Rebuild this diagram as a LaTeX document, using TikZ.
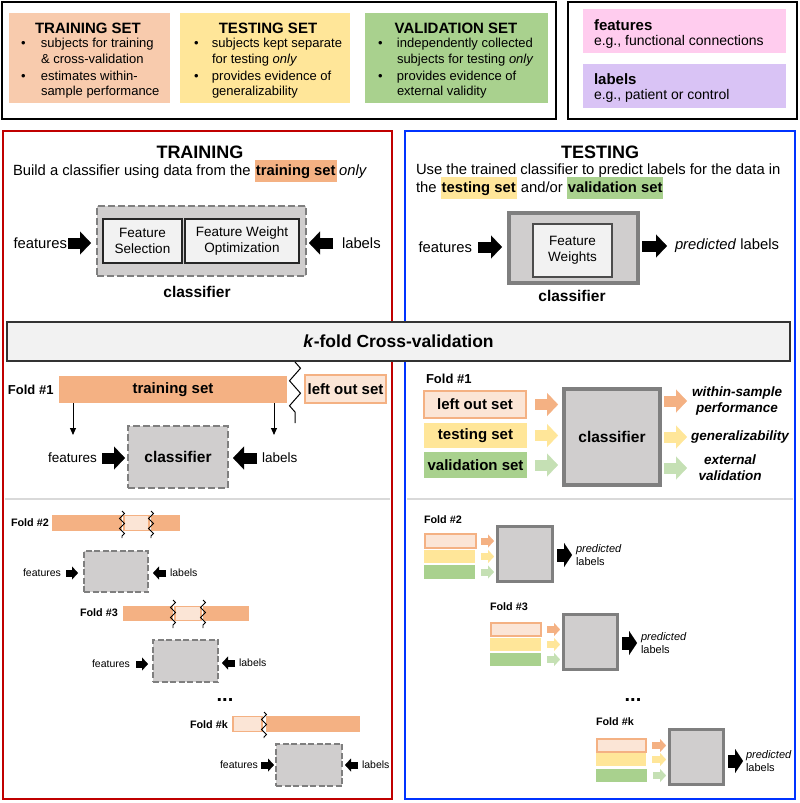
\documentclass[tikz,border=0pt]{standalone}
\usepackage{fontspec}
\setmainfont{Liberation Sans}
\usetikzlibrary{positioning}
\usetikzlibrary{arrows.meta}
\usetikzlibrary{calc}
\usetikzlibrary{decorations.pathmorphing}

\definecolor{trainC}{HTML}{F8CBAD}
\definecolor{testC}{HTML}{FFE699}
\definecolor{validC}{HTML}{A9D18E}
\definecolor{featC}{HTML}{FFCCEE}
\definecolor{labC}{HTML}{D9C3F5}
\definecolor{barC}{HTML}{F4B183}
\definecolor{leftC}{HTML}{FBE5D6}
\definecolor{greenA}{HTML}{C5E0B4}
\definecolor{clfC}{HTML}{D0CECE}
\definecolor{lineC}{HTML}{7F7F7F}
\definecolor{redC}{HTML}{C00000}
\definecolor{blueC}{HTML}{0033FF}

\newcommand{\fsz}[2]{\fontsize{#1}{#2}\selectfont}
\newcommand{\hlite}[2]{\smash{\setlength{\fboxsep}{0pt}\colorbox{#1}{\rule[-6.5pt]{0pt}{22.5pt}\hspace{1pt}\textbf{#2}\hspace{1pt}}}}

\begin{document}
\begin{tikzpicture}[x=1pt, y=-1pt,
    every node/.style={inner sep=0pt, outer sep=0pt},
    sz/.style 2 args={anchor=north west, minimum width=#1pt, minimum height=#2pt},
    framebox/.style={draw=black, line width=1.5pt},
    panel/.style={draw=#1, line width=2.5pt},
    legtitle/.style={font=\fsz{15}{18}\bfseries},
    legtext/.style={font=\fsz{13}{15.5}, anchor=base west},
    keyname/.style={font=\fsz{15}{18}\bfseries, anchor=west},
    keytext/.style={font=\fsz{14}{17}, anchor=west},
    heading/.style={font=\fsz{18}{21}\bfseries},
    body/.style={font=\fsz{14.8}{18}},
    midtxt/.style={font=\fsz{13.5}{16}},
    smalltxt/.style={font=\fsz{10.5}{12.5}},
    foldlbl/.style={font=\fsz{13}{15}\bfseries, anchor=west},
    foldsm/.style={font=\fsz{10.8}{13}\bfseries, anchor=west},
    setbox/.style={fill=#1, font=\fsz{15}{18}\bfseries},
    loframe/.style={fill=leftC, draw=barC, line width=#1},
    featbox/.style={fill=black!5, draw=black!85, line width=1.2pt, align=center, font=\fsz{13.5}{16}},
    dashclf/.style={fill=clfC, draw=lineC, line width=2.5pt, dash pattern=on 7pt off 3pt, font=\fsz{15.5}{18}\bfseries},
    dashsm/.style={fill=clfC, draw=lineC, line width=2pt, dash pattern=on 6pt off 2.5pt},
    solidclf/.style={fill=clfC, draw=lineC, line width=#1, font=\fsz{15.5}{18}\bfseries},
    outlbl/.style={font=\fsz{13.5}{16}\bfseries\itshape, align=center, anchor=west},
    predlbl/.style={font=\fsz{11}{12.5}, align=left, anchor=west},
    bigarr/.style={line width=11pt, -{Triangle[length=11pt, width=23pt, line width=0.1pt]}},
    smallarr/.style={line width=7pt, -{Triangle[length=6pt, width=13pt, line width=0.1pt]}},
    outarr/.style={line width=13pt, -{Triangle[length=8pt, width=24pt, line width=0.1pt]}},
    downarr/.style={line width=1pt, -{Triangle[length=7pt, width=6pt]}},
    zigbig/.style={line width=1pt, decorate, decoration={zigzag, segment length=25pt, amplitude=5.5pt}},
    zigsm/.style={line width=0.8pt, decorate, decoration={zigzag, segment length=10pt, amplitude=2.5pt}},
    sepline/.style={draw=black!15, line width=1.5pt},
]
    \useasboundingbox (0,0) rectangle (800,803);

    % legend of the data sets
    \node[framebox, sz={554}{117}] (legend) at (2,2) {};
    \node[fill=trainC, sz={161}{90}] (trainleg) at (9,13) {};
    \node[fill=testC, sz={170}{90}] (testleg) at (180,13) {};
    \node[fill=validC, sz={183}{90}] (validleg) at (365,13) {};
    \node[legtitle] (trainhead) at (88,28) {TRAINING SET};
    \node[legtitle] (testhead) at (268,28) {TESTING SET};
    \node[legtitle] (validhead) at (456,28) {VALIDATION SET};
    \node[legtext] (trainpts) at (21,47.5) {\begin{tabular}[t]{@{}p{20pt}@{}l@{}}
        \textbullet & subjects for training\\
        & \& cross-validation\\[1.5pt]
        \textbullet & estimates within-\\
        & sample performance
    \end{tabular}};
    \node[legtext] (testpts) at (194,47.5) {\begin{tabular}[t]{@{}p{18pt}@{}l@{}}
        \textbullet & subjects kept separate\\
        & for testing \textit{only}\\[1.5pt]
        \textbullet & provides evidence of\\
        & generalizability
    \end{tabular}};
    \node[legtext] (validpts) at (378,47.5) {\begin{tabular}[t]{@{}p{19pt}@{}l@{}}
        \textbullet & independently collected\\
        & subjects for testing \textit{only}\\[1.5pt]
        \textbullet & provides evidence of\\
        & external validity
    \end{tabular}};

    % legend of features and labels
    \node[framebox, sz={229}{117}] (keys) at (568,2) {};
    \node[fill=featC, sz={203}{44}] (featkey) at (583,9) {};
    \node[fill=labC, sz={203}{44}] (labkey) at (583,64) {};
    \node[keyname] (featname) at (594,25) {features};
    \node[keytext] (featex) at (594,42) {e.g., functional connections};
    \node[keyname] (labname) at (594,79) {labels};
    \node[keytext] (labex) at (594,96) {e.g., patient or control};

    % panels
    \node[panel=redC, sz={389}{668}] (trainpanel) at (3,131) {};
    \node[panel=blueC, sz={390}{668}] (testpanel) at (405,131) {};

    \node[heading] (traintitle) at (200,152) {TRAINING};
    \node[heading] (testtitle) at (600,152) {TESTING};
    \node[body, anchor=west] (traindesc) at (13,172) {Build a classifier using data from the \hlite{barC}{training set}\,\textit{only}};
    \node[body, anchor=north west, align=left] (testdesc) at (416,164) {Use the trained classifier to predict labels for the data in\\the \hlite{testC}{testing set} and/or \hlite{validC}{validation set}};

    % training classifier
    \node[dashclf, sz={209}{70}] (clfA) at (97,206) {};
    \node[featbox, sz={79}{44}] (fsel) at (103,219) {Feature\\Selection};
    \node[featbox, sz={114}{44}] (fwopt) at (185,219) {Feature Weight\\Optimization};
    \node[font=\fsz{15.5}{18}\bfseries] (clfAname) at (197,292) {classifier};
    \node[body, anchor=east] (featA) at (67,243) {features};
    \node[body, anchor=west] (labA) at (342,243) {labels};
    \draw[bigarr, shorten <=1pt, shorten >=6pt] (featA.east) -- (featA.east -| clfA.west);
    \draw[bigarr, shorten <=9pt, shorten >=3pt] (labA.west) -- (labA.west -| clfA.east);

    % testing classifier
    \node[solidclf=4pt, sz={129}{70}] (clfB) at (509,213) {};
    \node[featbox, draw=black!70, sz={79}{53}] (fweights) at (533,224) {Feature\\Weights};
    \node[font=\fsz{15.5}{18}\bfseries] (clfBname) at (572,296) {classifier};
    \node[body, anchor=east] (featB) at (472,247) {features};
    \node[body, anchor=west] (predB) at (675,246) {\textit{predicted} labels};
    \draw[bigarr, shorten <=6pt, shorten >=7pt] (featB.east) -- (featB.east -| clfB.west);
    \draw[bigarr, shorten <=4pt, shorten >=8pt] (predB.west -| clfB.east) -- (predB.west);

    % cross-validation bar
    \node[fill=black!5, draw=black!80, line width=1.5pt, sz={783}{39}, font=\fsz{17.5}{21}\bfseries] (kfold) at (7,322) {\textit{k}-fold Cross-validation};

    % fold 1, training side
    \node[foldlbl] (f1lbl) at (8,390) {Fold \#1};
    \node[setbox=barC, sz={228}{27}] (trbar) at (59,376) {training set};
    \draw[zigbig] (295,362) -- (295,423);
    \node[setbox=leftC, loframe=2.5pt, sz={81}{28}] (lobar) at (305,375) {left out set};
    \coordinate (dnA) at (73,435);
    \coordinate (dnB) at (274,435);
    \draw[downarr] (dnA |- trbar.south) -- (dnA);
    \draw[downarr] (dnB |- trbar.south) -- (dnB);
    \node[dashclf, sz={100}{62}] (clf1) at (128,426) {classifier};
    \node[midtxt, anchor=east] (feat1) at (97,458) {features};
    \node[midtxt, anchor=west] (lab1) at (262,458) {labels};
    \draw[bigarr, shorten <=5pt, shorten >=3pt] (feat1.east) -- (feat1.east -| clf1.west);
    \draw[bigarr, shorten <=5pt, shorten >=5pt] (lab1.west) -- (lab1.west -| clf1.east);

    % fold 1, testing side
    \node[foldlbl] (f1rlbl) at (426,379) {Fold \#1};
    \node[setbox=leftC, loframe=2.5pt, sz={102}{27}] (lo1) at (424,391) {left out set};
    \node[setbox=testC, sz={103}{25}] (ts1) at (424,423) {testing set};
    \node[setbox=validC, sz={103}{26}] (vs1) at (424,452) {validation set};
    \node[solidclf=4pt, sz={96}{96}] (clfR1) at (564,389) {classifier};
    \draw[bigarr, barC, shorten <=9pt, shorten >=6pt] (lo1.east) -- (lo1.east -| clfR1.west);
    \draw[bigarr, testC, shorten <=8pt, shorten >=6pt] (ts1.east) -- (ts1.east -| clfR1.west);
    \draw[bigarr, greenA, shorten <=8pt, shorten >=6pt] (vs1.east) -- (vs1.east -| clfR1.west);
    \node[outlbl, text width=96pt] (perf) at (689,401) {within-sample\\performance};
    \node[outlbl, text width=102pt] (gen) at (689,437) {generalizability};
    \node[outlbl, text width=82pt] (ext) at (689,468) {external\\validation};
    \draw[bigarr, barC, shorten <=4pt, shorten >=2pt] (perf.west -| clfR1.east) -- (perf.west);
    \draw[bigarr, testC, shorten <=4pt, shorten >=2pt] (gen.west -| clfR1.east) -- (gen.west);
    \draw[bigarr, greenA, shorten <=4pt, shorten >=2pt] (ext.west -| clfR1.east) -- (ext.west);

    \draw[sepline] (5,499) -- (390,499);
    \draw[sepline] (407,499) -- (793,499);

    % fold 2, training side
    \node[foldsm] (f2lbl) at (11,523) {Fold \#2};
    \node[fill=barC, sz={70}{16}] (f2a) at (52,515) {};
    \node[loframe=1.2pt, sz={25}{15}] (f2lo) at (124,515.5) {};
    \node[fill=barC, sz={29}{16}] (f2b) at (151,515) {};
    \draw[zigsm] (122,511) -- (122,538);
    \draw[zigsm] (151,511) -- (151,538);
    \node[dashsm, sz={64}{41}] (clf2) at (84,551) {};
    \node[smalltxt, anchor=east] (feat2) at (61,573) {features};
    \node[smalltxt, anchor=west] (lab2) at (170,573) {labels};
    \draw[smallarr, shorten <=5pt, shorten >=6pt] (feat2.east) -- (feat2.east -| clf2.west);
    \draw[smallarr, shorten <=4pt, shorten >=5pt] (lab2.west) -- (lab2.west -| clf2.east);

    % fold 3, training side
    \node[foldsm] (f3lbl) at (80,613) {Fold \#3};
    \node[fill=barC, sz={50}{15}] (f3a) at (123,606) {};
    \node[loframe=1.2pt, sz={26}{14}] (f3lo) at (175,606.5) {};
    \node[fill=barC, sz={46}{15}] (f3b) at (203,606) {};
    \draw[zigsm] (173,600) -- (173,628);
    \draw[zigsm] (203,600) -- (203,628);
    \node[dashsm, sz={65}{42}] (clf3) at (153,640) {};
    \node[smalltxt, anchor=east] (feat3) at (130,664) {features};
    \node[smalltxt, anchor=west] (lab3) at (239,663) {labels};
    \draw[smallarr, shorten <=6pt, shorten >=5pt] (feat3.east) -- (feat3.east -| clf3.west);
    \draw[smallarr, shorten <=4pt, shorten >=4pt] (lab3.west) -- (lab3.west -| clf3.east);

    \node[font=\fsz{20}{22}\bfseries] (dotsL) at (225,700) {...};

    % fold k, training side
    \node[foldsm] (fklbl) at (190,725) {Fold \#k};
    \node[loframe=1.2pt, sz={29}{15}] (fklo) at (233,716.5) {};
    \node[fill=barC, sz={94}{16}] (fka) at (266,716) {};
    \draw[zigsm] (264,712) -- (264,738);
    \node[dashsm, sz={66}{42}] (clfk) at (276,744) {};
    \node[smalltxt, anchor=east] (featk) at (258,765) {features};
    \node[smalltxt, anchor=west] (labk) at (362,765) {labels};
    \draw[smallarr, shorten <=3pt, shorten >=2pt] (featk.east) -- (featk.east -| clfk.west);
    \draw[smallarr, shorten <=4pt, shorten >=3pt] (labk.west) -- (labk.west -| clfk.east);

    % fold 2, testing side
    \node[foldsm] (f2rlbl) at (424,520) {Fold \#2};
    \node[loframe=1.8pt, sz={51}{14}] (lo2) at (425,534) {};
    \node[fill=testC, sz={51}{13}] (ts2) at (424,550) {};
    \node[fill=validC, sz={51}{14}] (vs2) at (424,565) {};
    \node[solidclf=3pt, sz={55}{55}] (clfR2) at (497.5,526.5) {};
    \draw[smallarr, barC, shorten <=5pt, shorten >=3.5pt] (lo2.east) -- (lo2.east -| clfR2.west);
    \draw[smallarr, testC, shorten <=6pt, shorten >=3.5pt] (ts2.east) -- (ts2.east -| clfR2.west);
    \draw[smallarr, greenA, shorten <=6pt, shorten >=3.5pt] (vs2.east) -- (vs2.east -| clfR2.west);
    \node[predlbl] (pred2) at (576,555) {\textit{predicted}\\labels};
    \draw[outarr, shorten <=4.5pt, shorten >=4pt] (pred2.west -| clfR2.east) -- (pred2.west);

    % fold 3, testing side
    \node[foldsm] (f3rlbl) at (490,607) {Fold \#3};
    \node[loframe=1.8pt, sz={50}{13}] (lo3) at (491,623) {};
    \node[fill=testC, sz={51}{13}] (ts3) at (490,638) {};
    \node[fill=validC, sz={51}{13}] (vs3) at (490,653) {};
    \node[solidclf=3pt, sz={54}{55}] (clfR3) at (563.5,614.5) {};
    \draw[smallarr, barC, shorten <=6pt, shorten >=3.5pt] (lo3.east) -- (lo3.east -| clfR3.west);
    \draw[smallarr, testC, shorten <=6pt, shorten >=3.5pt] (ts3.east) -- (ts3.east -| clfR3.west);
    \draw[smallarr, greenA, shorten <=6pt, shorten >=3.5pt] (vs3.east) -- (vs3.east -| clfR3.west);
    \node[predlbl] (pred3) at (641,643) {\textit{predicted}\\labels};
    \draw[outarr, shorten <=4.5pt, shorten >=4pt] (pred3.west -| clfR3.east) -- (pred3.west);

    \node[font=\fsz{20}{22}\bfseries] (dotsR) at (633,700) {...};

    % fold k, testing side
    \node[foldsm] (fkrlbl) at (596,722) {Fold \#k};
    \node[loframe=1.8pt, sz={49}{13}] (lok) at (597,739) {};
    \node[fill=testC, sz={50}{13}] (tsk) at (596,753) {};
    \node[fill=validC, sz={51}{13}] (vsk) at (596,769) {};
    \node[solidclf=3pt, sz={54}{55}] (clfRk) at (669.5,729.5) {};
    \draw[smallarr, barC, shorten <=6pt, shorten >=3.5pt] (lok.east) -- (lok.east -| clfRk.west);
    \draw[smallarr, testC, shorten <=6pt, shorten >=3.5pt] (tsk.east) -- (tsk.east -| clfRk.west);
    \draw[smallarr, greenA, shorten <=6pt, shorten >=3.5pt] (vsk.east) -- (vsk.east -| clfRk.west);
    \node[predlbl] (predk) at (746,761) {\textit{predicted}\\labels};
    \draw[outarr, shorten <=4.5pt, shorten >=3pt] (predk.west -| clfRk.east) -- (predk.west);

\end{tikzpicture}
\end{document}
